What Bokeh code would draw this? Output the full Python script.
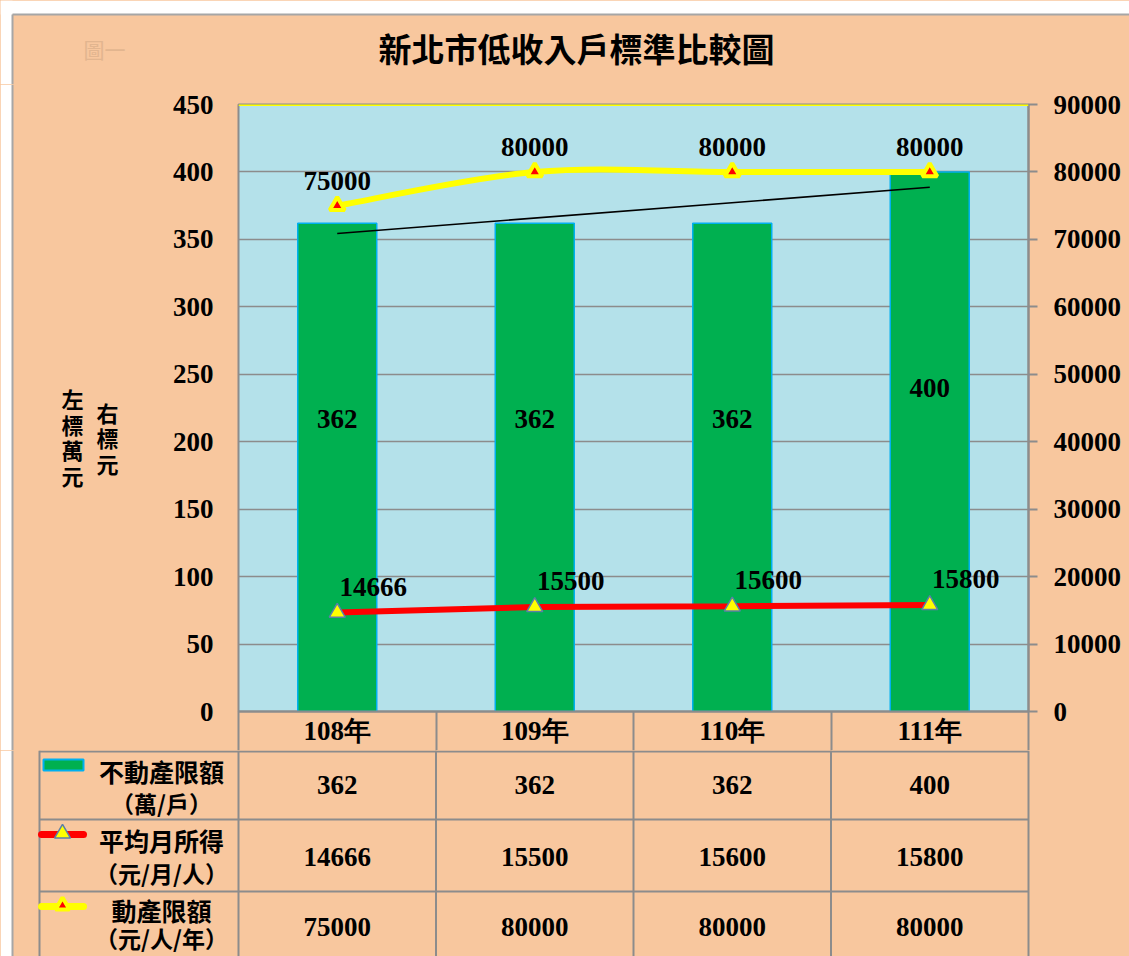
import numpy as np
from bokeh.plotting import figure
from bokeh.models import (Range1d, LinearAxis, FixedTicker, NumeralTickFormatter,
                          ColumnDataSource, Span)
from bokeh.layouts import column, row
from bokeh.embed import file_html
from bokeh.resources import INLINE
from bokeh.core.properties import value

# ---------------- data ----------------
categories = ["108年", "109年", "110年", "111年"]
real_estate = [362, 362, 362, 400]            # 不動產限額（萬/戶） left axis
monthly_income = [14666, 15500, 15600, 15800]  # 平均月所得（元/月/人） right axis
movable_assets = [75000, 80000, 80000, 80000]  # 動產限額（元/人/年） right axis
left_ticks = [0, 50, 100, 150, 200, 250, 300, 350, 400, 450]
right_ticks = [0, 10000, 20000, 30000, 40000, 50000, 60000, 70000, 80000, 90000]
title_text = "新北市低收入戶標準比較圖"
left_axis_title = "左\n標\n萬\n元"
right_axis_title = "右\n標\n元"
row_names = ["不動產限額", "平均月所得", "動產限額"]
row_units = ["（萬/戶）", "（元/月/人）", "（元/人/年）"]

# ---------------- style ----------------
PEACH = "#f8c79e"
PLOT_BG = "#b4e1ea"
GRID = "#8c8c8c"
FRAME = "#a6a6a6"
GREEN = "#00b050"
BAR_EDGE = "#00b0f0"
RED = "#ff0000"
YELLOW = "#ffff00"
TRI_EDGE = "#5b7fa8"
NUM_FONT = "Liberation Serif"
CJK_FONT = "Noto Sans CJK TC"
W, H = 1129, 956
HEAD_H = 84          # header strip (title)
MID_H = 666          # chart strip
TAB_H = H - HEAD_H - MID_H
LAB_W = 140          # strip left of the chart holding the vertical axis titles

xs = np.arange(len(categories))
col_edges = [float(v) - 0.5 for v in xs] + [float(xs[-1]) + 0.5]

common = dict(text_font=value(NUM_FONT), text_font_style="bold", text_font_size="27px",
              text_color="black", text_align="center", text_baseline="middle")
cjk = dict(text_font=value(CJK_FONT), text_font_style="bold", text_color="black",
           text_align="center", text_baseline="middle")


def blank(width, height, xr, yr):
    f = figure(width=width, height=height, x_range=xr, y_range=yr, output_backend="svg",
               toolbar_location=None, x_axis_location=None, y_axis_location=None,
               min_border=0, min_border_left=0, min_border_right=0, min_border_top=0,
               min_border_bottom=0)
    f.frame_align = False
    f.background_fill_color = PEACH
    f.border_fill_color = PEACH
    f.outline_line_color = None
    f.xgrid.visible = False
    f.ygrid.visible = False
    return f


# ---------------- header (title) ----------------
hd = blank(W, HEAD_H, Range1d(0, W), Range1d(HEAD_H, 0))
hd.quad(left=[0, 0], right=[W, 12], top=[0, 0], bottom=[14, HEAD_H], fill_color="white",
        line_color=None)
hd.line([12, W], [14, 14], line_color=FRAME, line_width=2)
hd.line([12, 12], [14, HEAD_H], line_color=FRAME, line_width=2)
hd.text([83], [48], text=["圖一"], text_font=value(CJK_FONT), text_font_size="21px",
        text_color="#e2b58f", text_align="left", text_baseline="middle")
hd.text([576], [47], text=[title_text], text_font_size="33px", **cjk)

# ---------------- left strip with axis titles ----------------
lb = blank(LAB_W, MID_H, Range1d(0, LAB_W), Range1d(HEAD_H + MID_H, HEAD_H))
lb.quad(left=[0], right=[12], top=[HEAD_H], bottom=[HEAD_H + MID_H], fill_color="white",
        line_color=None)
lb.line([12, 12], [HEAD_H, HEAD_H + MID_H], line_color=FRAME, line_width=2)
lb.text([72, 107], [436, 437], text=[left_axis_title, right_axis_title],
        text_font_size="22px", text_line_height=0.8, **cjk)

# ---------------- main chart ----------------
p = figure(width=W - LAB_W, height=MID_H, x_range=Range1d(-0.5, 3.5), y_range=Range1d(0, 450),
           output_backend="svg", toolbar_location=None, x_axis_location=None,
           min_border_left=98, min_border_right=101, min_border_top=20, min_border_bottom=39)
p.frame_align = False
p.background_fill_color = PLOT_BG
p.border_fill_color = PEACH
p.outline_line_color = GRID
p.outline_line_width = 2

yax = p.yaxis[0]
yax.ticker = FixedTicker(ticks=left_ticks)
yax.axis_line_color = None
yax.major_tick_line_color = None
yax.minor_tick_line_color = None
yax.major_tick_out = 0
yax.major_tick_in = 0
yax.major_label_standoff = 25
yax.major_label_text_font = NUM_FONT
yax.major_label_text_font_style = "bold"
yax.major_label_text_font_size = "27px"
yax.major_label_text_color = "black"

p.extra_y_ranges = {"r": Range1d(0, 90000)}
rax = LinearAxis(y_range_name="r", ticker=FixedTicker(ticks=right_ticks),
                 formatter=NumeralTickFormatter(format="0"))
rax.axis_line_color = GRID
rax.axis_line_width = 2
rax.major_tick_line_color = GRID
rax.major_tick_line_width = 2
rax.major_tick_out = 9
rax.major_tick_in = 0
rax.minor_tick_line_color = None
rax.major_label_standoff = 16
rax.major_label_text_font = NUM_FONT
rax.major_label_text_font_style = "bold"
rax.major_label_text_font_size = "27px"
rax.major_label_text_color = "black"
p.add_layout(rax, "right")

# category axis: labels at the centres, cell borders as minor ticks
xax = LinearAxis(ticker=FixedTicker(ticks=[int(v) for v in xs], minor_ticks=col_edges),
                 major_label_overrides={int(i): c for i, c in zip(xs, categories)})
xax.axis_line_color = GRID
xax.axis_line_width = 2
xax.major_tick_line_color = None
xax.major_tick_out = 0
xax.major_tick_in = 0
xax.minor_tick_line_color = GRID
xax.minor_tick_line_width = 2
xax.minor_tick_out = 39
xax.minor_tick_in = 0
xax.major_label_standoff = -35
xax.major_label_text_font = NUM_FONT
xax.major_label_text_font_style = "bold"
xax.major_label_text_font_size = "27px"
xax.major_label_text_color = "black"
p.add_layout(xax, "below")

p.xgrid.visible = False
p.ygrid.ticker = FixedTicker(ticks=left_ticks)
p.ygrid.grid_line_color = GRID
p.ygrid.grid_line_width = 1.5

p.add_layout(Span(location=450, dimension="width", line_color=YELLOW, line_width=3))

# bars
bar_src = ColumnDataSource(dict(x=xs, top=real_estate,
                                ly=np.array(real_estate) * 0.6,
                                txt=[str(v) for v in real_estate]))
p.vbar(x="x", top="top", width=0.4, source=bar_src, fill_color=GREEN,
       line_color=BAR_EDGE, line_width=1.5)

# linear trend line of the bars
coef = np.polyfit(xs, real_estate, 1)
tx = np.array([xs[0], xs[-1]], dtype=float)
p.line(tx, np.polyval(coef, tx), line_color="black", line_width=1.6)

# smoothed yellow line (Catmull-Rom -> Bezier)
n = len(xs)
Q = np.array([movable_assets[0]] + movable_assets + [movable_assets[-1]], dtype=float)
QX = np.concatenate([[xs[0]], xs, [xs[-1]]]).astype(float)
cx0 = QX[1:n] + (QX[2:n + 1] - QX[0:n - 1]) / 6
cy0 = Q[1:n] + (Q[2:n + 1] - Q[0:n - 1]) / 6
cx1 = QX[2:n + 1] - (QX[3:n + 2] - QX[1:n]) / 6
cy1 = Q[2:n + 1] - (Q[3:n + 2] - Q[1:n]) / 6
p.bezier(x0=QX[1:n], y0=Q[1:n], x1=QX[2:n + 1], y1=Q[2:n + 1], cx0=cx0, cy0=cy0,
         cx1=cx1, cy1=cy1, y_range_name="r", line_color=YELLOW, line_width=6,
         line_cap="round")

# red income line
p.line(xs, monthly_income, y_range_name="r", line_color=RED, line_width=6, line_cap="round")

inc_src = ColumnDataSource(dict(x=xs, y=monthly_income, txt=[str(v) for v in monthly_income]))
mov_src = ColumnDataSource(dict(x=xs, y=movable_assets, txt=[str(v) for v in movable_assets]))

p.scatter("x", "y", source=inc_src, y_range_name="r", marker="triangle", size=16,
          fill_color=YELLOW, line_color=TRI_EDGE, line_width=1.5)
p.scatter("x", "y", source=mov_src, y_range_name="r", marker="triangle", size=15,
          fill_color=RED, line_color=YELLOW, line_width=4)

p.text("x", "ly", text="txt", source=bar_src, **common)
p.text("x", "y", text="txt", source=mov_src, y_range_name="r", y_offset=-25, **common)
p.text("x", "y", text="txt", source=inc_src, y_range_name="r", x_offset=36, y_offset=-26, **common)

# ---------------- data table below ----------------
def u(px):  # page x -> category units (same scale as the chart)
    return -0.5 + (px - 238) / 197.5


top_y = HEAD_H + MID_H
t = blank(W, TAB_H, Range1d(u(0), u(W)), Range1d(H, top_y))
t.quad(left=[u(0)], right=[u(12)], top=[top_y], bottom=[H], fill_color="white", line_color=None)
t.line([u(12), u(12)], [top_y, H], line_color=FRAME, line_width=2)

left_edge = u(39)
row_lines = [top_y + 1, 819, 891]
t.segment(x0=col_edges, y0=[top_y] * len(col_edges), x1=col_edges, y1=[H] * len(col_edges),
          line_color=GRID, line_width=2)
t.segment(x0=[left_edge], y0=[top_y], x1=[left_edge], y1=[H], line_color=GRID, line_width=2)
t.segment(x0=[left_edge] * 3, y0=row_lines, x1=[col_edges[-1]] * 3, y1=row_lines,
          line_color=GRID, line_width=2)

row_y = [784, 856, 926]
cell_src = ColumnDataSource(dict(
    x=np.concatenate([xs, xs, xs]),
    y=[row_y[0]] * 4 + [row_y[1]] * 4 + [row_y[2]] * 4,
    txt=[str(v) for v in real_estate] + [str(v) for v in monthly_income]
        + [str(v) for v in movable_assets]))
t.text("x", "y", text="txt", source=cell_src, **common)

hx = u(161)
t.text([hx] * 3, [770, 839, 909], text=row_names, text_font_size="25px", **cjk)
t.text([hx] * 3, [802, 872, 937], text=row_units, text_font_size="23px", **cjk)

# legend keys
t.quad(left=[u(43)], right=[u(83)], top=[759], bottom=[770],
       fill_color=GREEN, line_color=BAR_EDGE, line_width=2)
t.line([u(41), u(83)], [834, 834], line_color=RED, line_width=7, line_cap="round")
t.scatter([u(62)], [833], marker="triangle", size=16, fill_color=YELLOW,
          line_color=TRI_EDGE, line_width=1.5)
t.line([u(41), u(83)], [906, 906], line_color=YELLOW, line_width=7, line_cap="round")
t.scatter([u(62)], [905], marker="triangle", size=14, fill_color=RED,
          line_color=YELLOW, line_width=4)

mid = row(lb, p, spacing=0, styles={"background-color": PEACH})
layout = column(hd, mid, t, spacing=0, styles={"background-color": PEACH})
open("out.html", "w").write(file_html(layout, INLINE))
